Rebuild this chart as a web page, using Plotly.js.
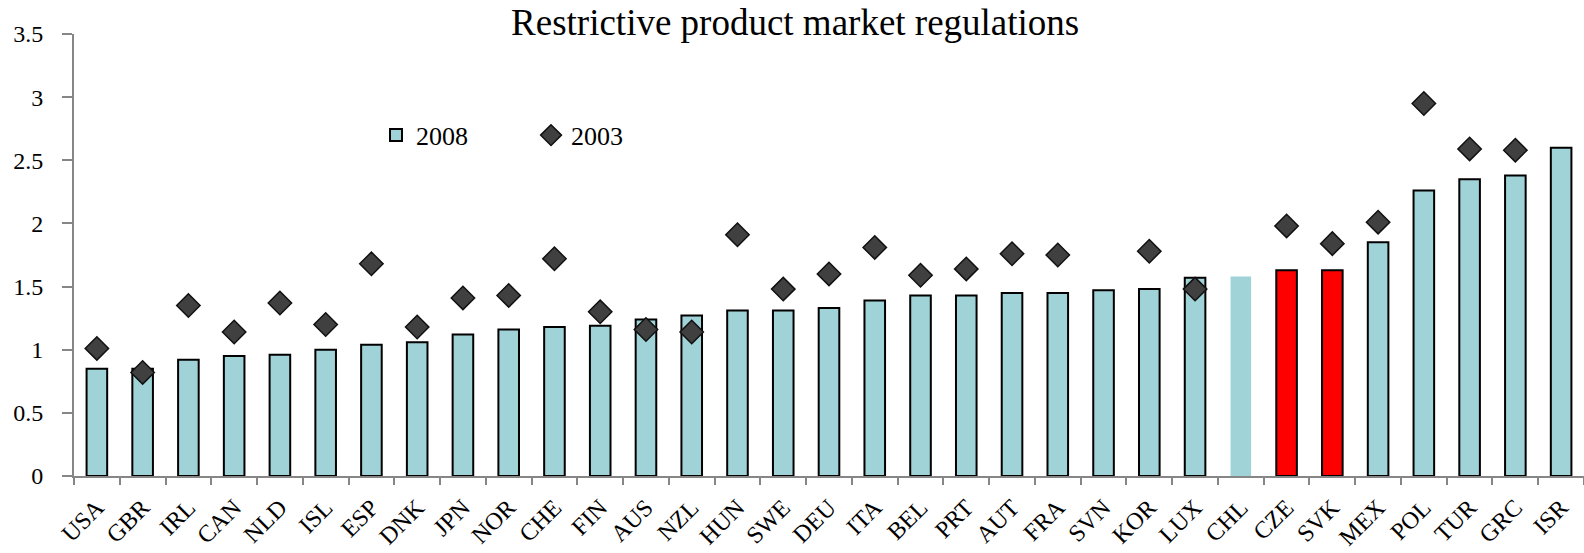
<!DOCTYPE html>
<html>
<head>
<meta charset="utf-8">
<script src="https://cdn.plot.ly/plotly-3.0.1.min.js"></script>
<style>html,body{margin:0;padding:0;background:#fff;}#chart{width:1584px;height:553px;}</style>
</head>
<body>
<div id="chart"></div>
<script>
const countries = ["USA","GBR","IRL","CAN","NLD","ISL","ESP","DNK","JPN","NOR","CHE","FIN","AUS","NZL","HUN","SWE","DEU","ITA","BEL","PRT","AUT","FRA","SVN","KOR","LUX","CHL","CZE","SVK","MEX","POL","TUR","GRC","ISR"];
const values2008 = [0.85,0.85,0.92,0.95,0.96,1.00,1.04,1.06,1.12,1.16,1.18,1.19,1.24,1.27,1.31,1.31,1.33,1.39,1.43,1.43,1.45,1.45,1.47,1.48,1.57,1.58,1.63,1.63,1.85,2.26,2.35,2.38,2.60];
const values2003 = [1.01,0.82,1.35,1.14,1.37,1.20,1.68,1.18,1.41,1.43,1.72,1.30,1.16,1.14,1.91,1.48,1.60,1.81,1.59,1.64,1.76,1.75,null,1.78,1.48,null,1.98,1.84,2.01,2.95,2.59,2.58,null];
const highlighted = ["CZE","SVK"];
const noOutline = ["CHL"];
const yTicks = [0,0.5,1,1.5,2,2.5,3,3.5];

const barColors = countries.map(c => highlighted.includes(c) ? "#FF0000" : "#A0D3D7");
const barLineW = countries.map(c => noOutline.includes(c) ? 0 : 2);

const traces = [
  {
    type: "bar", name: "2008", x: countries, y: values2008, width: 0.45,
    marker: {color: barColors, line: {color: "#000000", width: barLineW}}
  },
  {
    type: "scatter", mode: "markers", name: "2003", x: countries, y: values2003,
    marker: {symbol: "diamond", size: 18, color: "#404040", line: {color: "#111111", width: 1.5}}
  }
];

const layout = {
  width: 1584, height: 553,
  margin: {l: 74, r: 0, t: 34, b: 77},
  paper_bgcolor: "#ffffff", plot_bgcolor: "#ffffff",
  font: {family: "Liberation Serif, Times New Roman, serif", color: "#000000", size: 24},
  title: {text: "Restrictive product market regulations", x: 0.502, xanchor: "center", y: 0.96, yanchor: "middle",
          font: {size: 37, family: "Liberation Serif, serif", color: "#000"}},
  showlegend: true,
  legend: {orientation: "h", x: 0.2, xanchor: "left", y: 0.771, yanchor: "middle",
           font: {size: 26}, entrywidth: 110, bgcolor: "rgba(0,0,0,0)", traceorder: "normal"},
  xaxis: {
    type: "category", range: [-0.5, 32.5], tickangle: -45, ticks: "outside", tickson: "boundaries",
    ticklen: 7, tickwidth: 2, tickcolor: "#868686",
    showline: true, linecolor: "#868686", linewidth: 2,
    showgrid: false, zeroline: false, ticklabelstandoff: 6,
    tickfont: {size: 24}
  },
  yaxis: {
    range: [0, 3.5], tickvals: yTicks, ticktext: yTicks.map(String),
    ticks: "outside", ticklen: 10, tickwidth: 2, tickcolor: "#868686",
    showline: true, linecolor: "#868686", linewidth: 2,
    showgrid: false, zeroline: false, ticklabelstandoff: 14,
    tickfont: {size: 24}
  },
  bargap: 0.55
};

Plotly.newPlot("chart", traces, layout, {displayModeBar: false, staticPlot: true});
</script>
</body>
</html>
